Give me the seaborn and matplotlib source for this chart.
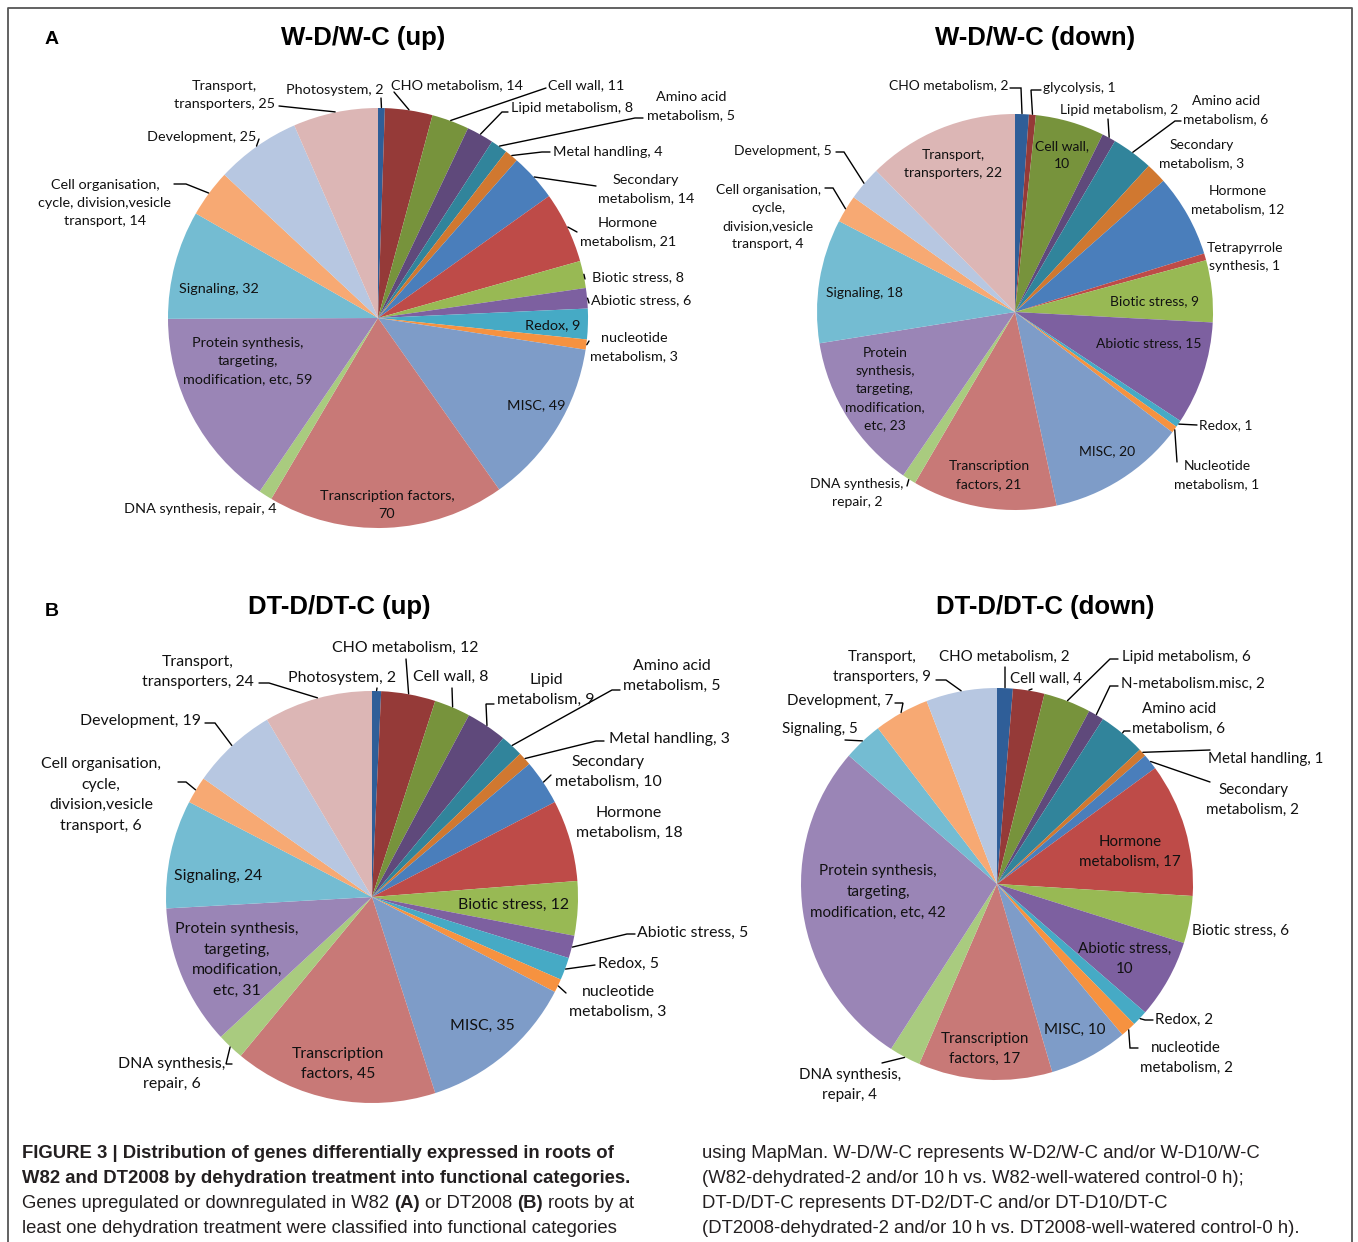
import matplotlib
matplotlib.use("Agg")
import matplotlib.pyplot as plt
import seaborn as sns
import numpy as np

# ---------------- data ----------------
wup_categories = ["Photosystem", "CHO metabolism", "Cell wall", "Lipid metabolism", "Amino acid metabolism",
                  "Metal handling", "Secondary metabolism", "Hormone metabolism", "Biotic stress", "Abiotic stress",
                  "Redox", "nucleotide metabolism", "MISC", "Transcription factors", "DNA synthesis, repair",
                  "Protein synthesis, targeting, modification, etc", "Signaling",
                  "Cell organisation, cycle, division,vesicle transport", "Development", "Transport, transporters"]
wup_values = [2, 14, 11, 8, 5, 4, 14, 21, 8, 6, 9, 3, 49, 70, 4, 59, 32, 14, 25, 25]

wdown_categories = ["CHO metabolism", "glycolysis", "Cell wall", "Lipid metabolism", "Amino acid metabolism",
                    "Secondary metabolism", "Hormone metabolism", "Tetrapyrrole synthesis", "Biotic stress",
                    "Abiotic stress", "Redox", "Nucleotide metabolism", "MISC", "Transcription factors",
                    "DNA synthesis, repair", "Protein synthesis, targeting, modification, etc", "Signaling",
                    "Cell organisation, cycle, division,vesicle transport", "Development", "Transport, transporters"]
wdown_values = [2, 1, 10, 2, 6, 3, 12, 1, 9, 15, 1, 1, 20, 21, 2, 23, 18, 4, 5, 22]

dtup_categories = wup_categories
dtup_values = [2, 12, 8, 9, 5, 3, 10, 18, 12, 5, 5, 3, 35, 45, 6, 31, 24, 6, 19, 24]

dtdown_categories = ["CHO metabolism", "Cell wall", "Lipid metabolism", "N-metabolism.misc", "Amino acid metabolism",
                     "Metal handling", "Secondary metabolism", "Hormone metabolism", "Biotic stress", "Abiotic stress",
                     "Redox", "nucleotide metabolism", "MISC", "Transcription factors", "DNA synthesis, repair",
                     "Protein synthesis, targeting, modification, etc", "Signaling", "Development",
                     "Transport, transporters"]
dtdown_values = [2, 4, 6, 2, 6, 1, 2, 17, 6, 10, 2, 2, 10, 17, 4, 42, 5, 7, 9]

titles = ["W-D/W-C (up)", "W-D/W-C (down)", "DT-D/DT-C (up)", "DT-D/DT-C (down)"]
panel_letters = ["A", "B"]

# ---------------- style ----------------
sns.set_theme(style="white")
plt.rcParams["font.family"] = ["Lato", "DejaVu Sans"]

palette = sns.color_palette(["#2F5E98", "#953A38", "#77933C", "#5F497B", "#31849B", "#D07830",
                             "#4A7EBB", "#BE4B48", "#98B954", "#7D60A0", "#46AAC5", "#F69240",
                             "#7E9CC8", "#C87977", "#A9CB7F", "#9A85B6", "#74BCD2", "#F7A973",
                             "#B7C7E1", "#DCB6B5"])

W, H = 1358, 1242
fig = plt.figure(figsize=(W / 100, H / 100), dpi=100)
ax = fig.add_axes([0, 0, 1, 1])

# layout: (label template, text centre x, y, leader (x, y, stub) or None)
lay_wup = [
    ("Photosystem, 2", 335, 90, (381, 98, 0)),
    ("CHO metabolism, 14", 457, 85, (394, 92, 0)),
    ("Cell wall, 11", 586, 85, (546, 88, 0)),
    ("Lipid metabolism, 8", 572, 108, (508, 112, 6)),
    ("Amino acid\nmetabolism, 5", 691, 106, (643, 118, 8)),
    ("Metal handling, 4", 608, 152, (550, 152, 8)),
    ("Secondary\nmetabolism, 14", 646, 189, (596, 186, 0)),
    ("Hormone\nmetabolism, 21", 628, 232, (577, 232, 0)),
    ("Biotic stress, 8", 638, 277, (585, 279, 0)),
    ("Abiotic stress, 6", 641, 300, (589, 303, 0)),
    ("Redox, 9", 553, 325, None),
    ("nucleotide\nmetabolism, 3", 634, 347, (589, 341, 0)),
    ("MISC, 49", 536, 405, None),
    ("Transcription factors,\n70", 387, 505, None),
    ("DNA synthesis, repair, 4", 200, 509, None),
    ("Protein synthesis,\ntargeting,\nmodification, etc, 59", 248, 361, None),
    ("Signaling, 32", 219, 289, None),
    ("Cell organisation,\ncycle, division,vesicle\ntransport, 14", 105, 203, (174, 184, 12)),
    ("Development, 25", 202, 137, (259, 139, 0)),
    ("Transport,\ntransporters, 25", 224, 95, (279, 106, 0)),
]
lay_wdown = [
    ("CHO metabolism, 2", 949, 85, (1010, 88, 11)),
    ("glycolysis, 1", 1079, 88, (1041, 90, 10)),
    ("Cell wall,\n10", 1062, 155, None),
    ("Lipid metabolism, 2", 1119, 110, (1108, 119, 0)),
    ("Amino acid\nmetabolism, 6", 1226, 110, (1181, 121, 6)),
    ("Secondary\nmetabolism, 3", 1202, 154, None),
    ("Hormone\nmetabolism, 12", 1238, 200, None),
    ("Tetrapyrrole\nsynthesis, 1", 1245, 257, None),
    ("Biotic stress, 9", 1155, 301, None),
    ("Abiotic stress, 15", 1149, 343, None),
    ("Redox, 1", 1226, 425, (1197, 425, 0)),
    ("Nucleotide\nmetabolism, 1", 1217, 475, (1177, 462, 0)),
    ("MISC, 20", 1107, 451, None),
    ("Transcription\nfactors, 21", 989, 475, None),
    ("DNA synthesis,\nrepair, 2", 857, 493, (907, 486, 0)),
    ("Protein\nsynthesis,\ntargeting,\nmodification,\netc, 23", 885, 389, None),
    ("Signaling, 18", 864, 293, None),
    ("Cell organisation,\ncycle,\ndivision,vesicle\ntransport, 4", 768, 217, (825, 188, 8)),
    ("Development, 5", 783, 151, (836, 152, 8)),
    ("Transport,\ntransporters, 22", 953, 164, None),
]
lay_dtup = [
    ("Photosystem, 2", 342, 678, (377, 688, 0)),
    ("CHO metabolism, 12", 405, 648, (406, 659, 0)),
    ("Cell wall, 8", 451, 677, (452, 688, 0)),
    ("Lipid\nmetabolism, 9", 546, 690, (494, 704, 8)),
    ("Amino acid\nmetabolism, 5", 672, 676, (620, 690, 8)),
    ("Metal handling, 3", 669, 739, (604, 741, 8)),
    ("Secondary\nmetabolism, 10", 608, 772, (551, 775, 0)),
    ("Hormone\nmetabolism, 18", 629, 823, None),
    ("Biotic stress, 12", 513, 905, None),
    ("Abiotic stress, 5", 693, 933, (635, 934, 8)),
    ("Redox, 5", 628, 964, (595, 965, 0)),
    ("nucleotide\nmetabolism, 3", 618, 1002, (566, 993, 0)),
    ("MISC, 35", 482, 1026, None),
    ("Transcription\nfactors, 45", 338, 1064, None),
    ("DNA synthesis,\nrepair, 6", 172, 1074, (232, 1064, 6)),
    ("Protein synthesis,\ntargeting,\nmodification,\netc, 31", 237, 960, None),
    ("Signaling, 24", 218, 876, None),
    ("Cell organisation,\ncycle,\ndivision,vesicle\ntransport, 6", 101, 795, (178, 782, 8)),
    ("Development, 19", 140, 721, (205, 723, 10)),
    ("Transport,\ntransporters, 24", 198, 672, (259, 683, 10)),
]
lay_dtdown = [
    ("CHO metabolism, 2", 1004, 657, (1005, 667, 0)),
    ("Cell wall, 4", 1046, 679, (1032, 689, 0)),
    ("Lipid metabolism, 6", 1186, 657, (1118, 659, 8)),
    ("N-metabolism.misc, 2", 1193, 684, (1118, 686, 8)),
    ("Amino acid\nmetabolism, 6", 1179, 719, (1130, 731, 6)),
    ("Metal handling, 1", 1266, 759, (1210, 750, 0)),
    ("Secondary\nmetabolism, 2", 1253, 800, (1210, 782, 0)),
    ("Hormone\nmetabolism, 17", 1130, 852, None),
    ("Biotic stress, 6", 1240, 931, None),
    ("Abiotic stress,\n10", 1125, 959, None),
    ("Redox, 2", 1184, 1020, (1153, 1020, 8)),
    ("nucleotide\nmetabolism, 2", 1186, 1058, (1138, 1048, 8)),
    ("MISC, 10", 1075, 1030, None),
    ("Transcription\nfactors, 17", 985, 1049, None),
    ("DNA synthesis,\nrepair, 4", 850, 1085, (882, 1063, 0)),
    ("Protein synthesis,\ntargeting,\nmodification, etc, 42", 878, 892, None),
    ("Signaling, 5", 820, 729, (845, 740, 0)),
    ("Development, 7", 840, 701, (895, 703, 8)),
    ("Transport,\ntransporters, 9", 882, 667, (936, 680, 10)),
]

pies = [
    (wup_values, 378, 318, 210, lay_wup, 10.4),
    (wdown_values, 1015, 312, 198, lay_wdown, 10.0),
    (dtup_values, 372, 897, 206, lay_dtup, 11.4),
    (dtdown_values, 997, 884, 196, lay_dtdown, 10.9),
]

for values, cx, cy, r, lay, fs in pies:
    vals = np.asarray(values, dtype=float)
    ax.pie(vals, colors=palette[:len(vals)], startangle=-90, counterclock=True,
           center=(cx, cy), radius=r, frame=False,
           wedgeprops=dict(linewidth=0.4, edgecolor="none", antialiased=True))
    cum = np.cumsum(vals) / vals.sum() * 360.0
    mids = np.deg2rad(cum - vals / vals.sum() * 180.0)
    for i, (tmpl, tx, ty, leader) in enumerate(lay):
        ax.text(tx, ty, tmpl, ha="center", va="center", fontsize=fs, color="#111111",
                linespacing=1.6, zorder=5)
        if leader is not None:
            lx, ly, stub = leader
            ex = cx + (r + 0.5) * np.sin(mids[i])
            ey = cy - (r + 0.5) * np.cos(mids[i])
            s = np.sign(ex - lx)
            xs = [lx, lx + s * stub, ex]
            ys = [ly, ly, ey]
            ax.plot(xs, ys, color="black", lw=1.0, solid_joinstyle="miter", zorder=4)

# titles
title_pos = [(363, 38), (1035, 38), (339, 607), (1045, 607)]
for t, (x, y) in zip(titles, title_pos):
    ax.text(x, y, t, ha="center", va="center", fontsize=18.5, fontweight="bold",
            family=["Liberation Sans", "DejaVu Sans"], color="black")
for letter, (x, y) in zip(panel_letters, [(52, 40), (52, 612)]):
    ax.text(x, y, letter, ha="center", va="center", fontsize=14, fontweight="bold",
            family=["Liberation Sans", "DejaVu Sans"], color="black")

# frame
ax.plot([8, 8, 1352, 1352], [1260, 8, 8, 1260], color="#555555", lw=1.3, zorder=6)

ax.set_xlim(0, W)
ax.set_ylim(H, 0)
ax.set_aspect("auto")
ax.axis("off")

# caption
cap_family = ["Liberation Sans", "DejaVu Sans"]
cap_fs = 13.3
cap_col = "#231F20"
fig.canvas.draw()
renderer = fig.canvas.get_renderer()


def width_of(s, weight):
    t = ax.text(0, 0, s, fontsize=cap_fs, fontweight=weight, family=cap_family)
    w = t.get_window_extent(renderer).width
    t.remove()
    return w


space_w = width_of("a a", "normal") - width_of("aa", "normal")


def draw_runs(x, y, runs):
    for j, (s, weight) in enumerate(runs):
        t = ax.text(x, y, s, ha="left", va="baseline", fontsize=cap_fs, fontweight=weight,
                    family=cap_family, color=cap_col)
        x += t.get_window_extent(renderer).width + space_w


cap_left = [
    [("FIGURE 3 | Distribution of genes differentially expressed in roots of", "bold")],
    [("W82 and DT2008 by dehydration treatment into functional categories.", "bold")],
    [("Genes upregulated or downregulated in W82", "normal"), ("(A)", "bold"), ("or DT2008", "normal"),
     ("(B)", "bold"), ("roots by at", "normal")],
    [("least one dehydration treatment were classified into functional categories", "normal")],
]
cap_right = [
    [("using MapMan. W-D/W-C represents W-D2/W-C and/or W-D10/W-C", "normal")],
    [("(W82-dehydrated-2 and/or 10\u2009h vs. W82-well-watered control-0 h);", "normal")],
    [("DT-D/DT-C represents DT-D2/DT-C and/or DT-D10/DT-C", "normal")],
    [("(DT2008-dehydrated-2 and/or 10\u2009h vs. DT2008-well-watered control-0 h).", "normal")],
]
baselines = [1158, 1183, 1208, 1233]
for runs, yb in zip(cap_left, baselines):
    draw_runs(22, yb, runs)
for runs, yb in zip(cap_right, baselines):
    draw_runs(702, yb, runs)

fig.savefig("out.png", dpi=100)
